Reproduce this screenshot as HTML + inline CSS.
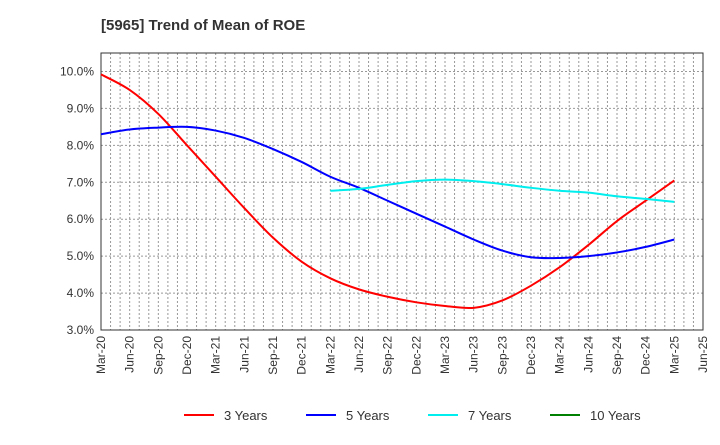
<!DOCTYPE html>
<html><head><meta charset="utf-8"><style>
body{margin:0;background:#fff;font-family:"Liberation Sans",sans-serif}
</style></head><body>
<svg id="chart" width="720" height="440" xmlns="http://www.w3.org/2000/svg">
<text x="101" y="30" font-size="15" font-weight="bold" fill="#333">[5965]  Trend of Mean of ROE</text>
<g id="grid"></g>
<rect x="101" y="53" width="602" height="277" fill="none" stroke="#333" stroke-width="1"/>
<g id="yticks"></g><g id="xticks"></g><g id="series"></g><g id="legend"></g>
</svg>
<script>
const xLabels=["Mar-20","Jun-20","Sep-20","Dec-20","Mar-21","Jun-21","Sep-21","Dec-21","Mar-22","Jun-22","Sep-22","Dec-22","Mar-23","Jun-23","Sep-23","Dec-23","Mar-24","Jun-24","Sep-24","Dec-24","Mar-25","Jun-25"];
const yTicks=[3,4,5,6,7,8,9,10];
const seriesNames=["3 Years","5 Years","7 Years","10 Years"];
const seriesColors=["#ff0000","#0000ff","#00eeee","#008000"];
const s3=[9.92,9.5,8.85,8.0,7.15,6.3,5.5,4.85,4.4,4.1,3.9,3.75,3.65,3.6,3.8,4.2,4.7,5.3,5.95,6.5,7.05];
const s5=[8.3,8.43,8.48,8.5,8.4,8.2,7.9,7.55,7.15,6.85,6.5,6.15,5.8,5.45,5.15,4.97,4.95,5.0,5.1,5.25,5.45];
const s7=[null,null,null,null,null,null,null,null,6.77,6.82,6.93,7.03,7.07,7.03,6.95,6.85,6.77,6.72,6.62,6.55,6.47];
const s10=[];
const L=101,R=703,T=53,B=330,yMin=3,yMax=10.5;
const NS="http://www.w3.org/2000/svg";
const qStep=(R-L)/(xLabels.length-1);
const xs=i=>L+i*qStep;
const ys=v=>B-(v-yMin)/(yMax-yMin)*(B-T);
function mk(t,a,p){const e=document.createElementNS(NS,t);for(const k in a)e.setAttribute(k,a[k]);p.appendChild(e);return e;}
const grid=document.getElementById('grid');
for(let m=1;m<(xLabels.length-1)*3;m++){const x=L+m*qStep/3;
 const l=mk('line',{x1:x,x2:x,y1:T,y2:B,stroke:'#999','stroke-dasharray':'2,2','stroke-width':1},grid);
 
 }
const yt=document.getElementById('yticks');
yTicks.forEach(v=>{const y=ys(v);
 if(v>yMin){const l=mk('line',{x1:L,x2:R,y1:y,y2:y,stroke:'#999','stroke-dasharray':'2,2'},grid);
 
 }
 const t=mk('text',{x:L-7,y:y+4,'text-anchor':'end','font-size':12,fill:'#333'},yt);t.textContent=v.toFixed(1)+'%';
 
 });
const xt=document.getElementById('xticks');
xLabels.forEach((s,i)=>{const x=xs(i);
 const t=mk('text',{x:0,y:0,transform:`translate(${x+4},${B+6}) rotate(-90)`,'text-anchor':'end','font-size':12,fill:'#333'},xt);t.textContent=s;
 
 });
function pathFor(arr){const pts=[];arr.forEach((v,i)=>{if(v!=null)pts.push([xs(i),ys(v)]);});
 if(pts.length<2)return '';let d=`M${pts[0][0]},${pts[0][1]}`;
 for(let i=0;i<pts.length-1;i++){const p0=pts[i-1]||pts[i],p1=pts[i],p2=pts[i+1],p3=pts[i+2]||p2;
  d+=` C${p1[0]+(p2[0]-p0[0])/6},${p1[1]+(p2[1]-p0[1])/6} ${p2[0]-(p3[0]-p1[0])/6},${p2[1]-(p3[1]-p1[1])/6} ${p2[0]},${p2[1]}`;}
 return d;}
const sg=document.getElementById('series');
[s3,s5,s7,s10].forEach((arr,k)=>{const d=pathFor(arr);if(!d)return;
 const p=mk('path',{d:d,fill:'none',stroke:seriesColors[k],'stroke-width':2},sg);
 
 });
const lg=document.getElementById('legend');
const lx=[184,306,428,550];
seriesNames.forEach((n,k)=>{
 const l=mk('line',{x1:lx[k],x2:lx[k]+30,y1:415,y2:415,stroke:seriesColors[k],'stroke-width':2},lg);
 
 
 const t=mk('text',{x:lx[k]+40,y:420,'font-size':13,fill:'#333'},lg);t.textContent=n;
 
 });
</script>
</body></html>
